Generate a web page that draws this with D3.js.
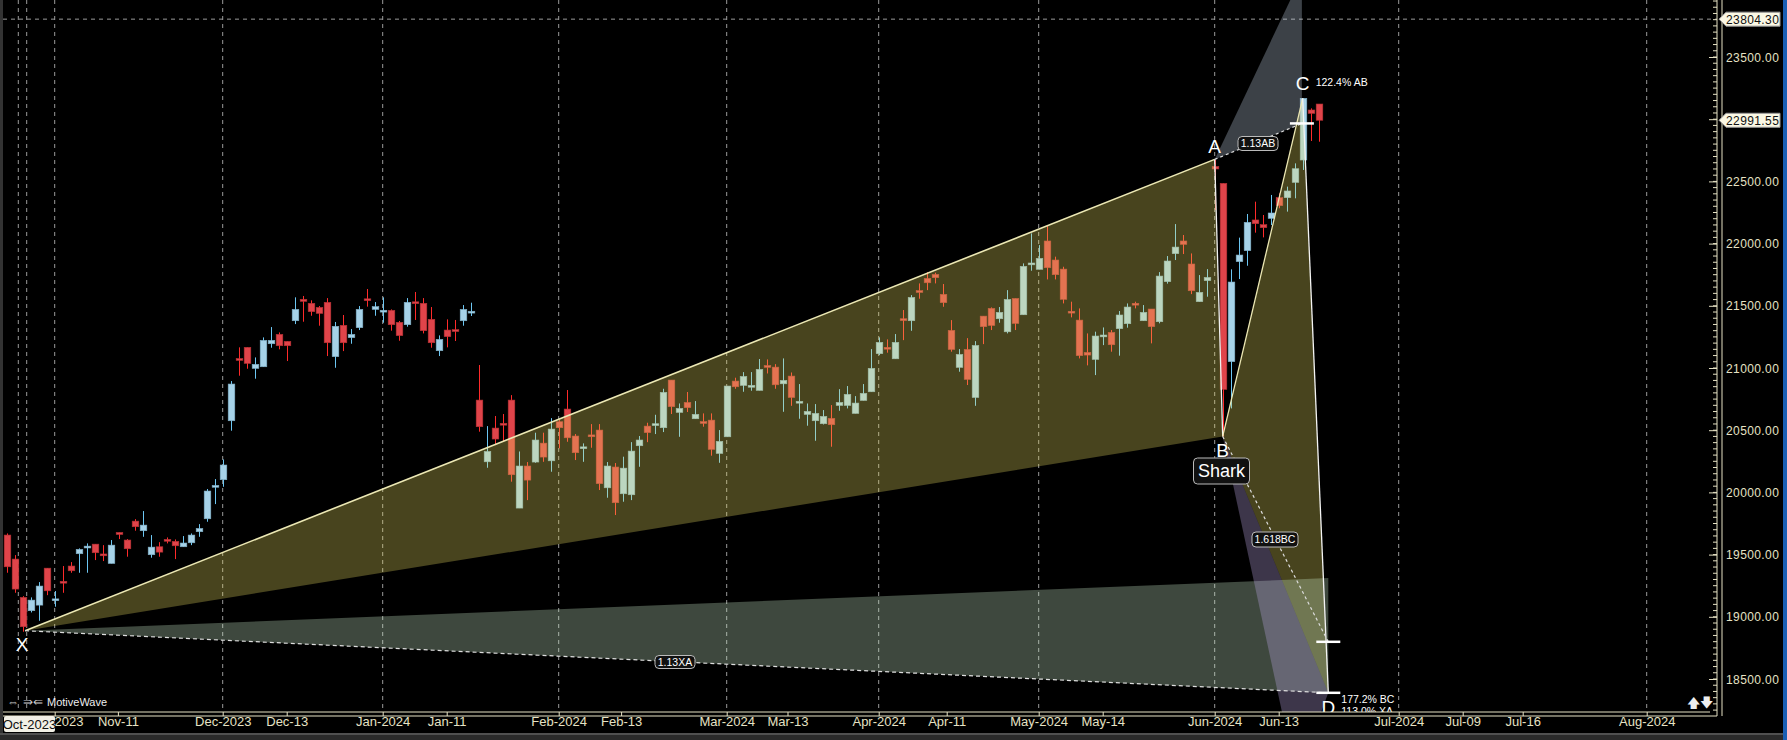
<!DOCTYPE html>
<html><head><meta charset="utf-8">
<script src="https://cdn.jsdelivr.net/npm/d3@7"></script>
<style>html,body{margin:0;padding:0;background:#000;overflow:hidden}svg{display:block;font-family:"Liberation Sans",Arial,sans-serif}</style>
</head><body><svg id="c" width="1787" height="740"></svg>
<script>
const opens=[19657,19464,19156,19049,19094,19391,19140,19285,19408,19507,19562,19584,19505,19429,19678,19617,19769,19692,19499,19563,19622,19606,19563,19595,19684,19788,20050,20102,20576,21076,21166,20997,21010,21195,21270,21214,21380,21552,21520,21487,21528,21091,21343,21244,21324,21556,21471,21458,21463,21367,21348,21532,21520,21391,21139,21305,21308,21380,21450,20742,20246,20517,20555,20742,19874,20212,20244,20396,20254,20568,20670,20453,20358,20462,20501,20037,20204,19989,19981,20375,20533,20546,20520,20903,20643,20723,20592,20569,20581,20313,20447,20895,20860,20854,20820,21020,21007,20873,20935,20726,20627,20576,20552,20595,20699,20699,20635,20739,20809,21115,21166,21074,21396,21380,21622,21720,21752,21592,21302,21005,21149,20763,21417,21479,21396,21291,21559,21428,21838,21793,22021,21868,21795,21456,21385,21125,21069,21259,21286,21316,21356,21520,21380,21474,21372,21694,21919,22021,21836,21533,21702,22620,22484,21051,21855,21943,22190,22152,22203,22369,22369,22492,22672,23074,23122];
const highs=[19670,19496,19166,19156,19279,19391,19207,19408,19440,19550,19590,19584,19576,19617,19678,19625,19785,19850,19657,19600,19638,19622,19649,19670,19745,20027,20107,20265,20895,21166,21166,21085,21246,21329,21286,21214,21568,21579,21544,21498,21562,21370,21426,21313,21498,21635,21530,21568,21471,21378,21562,21611,21562,21490,21262,21391,21386,21506,21525,21024,20533,20614,20630,20782,20329,20244,20480,20480,20597,20581,20823,20469,20394,20549,20549,20244,20236,20287,20404,20453,20560,20624,20833,20903,20715,20807,20734,20635,20635,20501,20855,20922,20967,20967,21072,21069,21031,21077,20964,20871,20715,20710,20662,20702,20830,20855,20774,20871,21152,21246,21230,21273,21466,21586,21680,21771,21766,21675,21385,21152,21240,21216,21417,21487,21490,21626,21559,21841,22082,21988,22146,21895,21814,21533,21479,21278,21292,21326,21305,21458,21519,21533,21506,21474,21771,21900,22157,22069,21921,21747,21795,22672,22484,21793,22048,22238,22337,22230,22391,22404,22458,22645,23168,23087,23122];
const lows=[19354,19193,18880,19035,18968,19174,19081,19193,19354,19354,19354,19456,19448,19429,19625,19483,19692,19643,19475,19483,19590,19464,19563,19576,19643,19764,19906,20045,20496,20938,20994,20914,21010,21163,21150,21056,21353,21372,21420,21340,21096,21002,21136,21195,21305,21493,21420,21364,21300,21219,21332,21386,21278,21163,21096,21166,21217,21340,21418,20488,20198,20380,20413,20086,19874,19938,20238,20246,20166,20354,20407,20260,20246,20359,20019,19957,19818,19925,19938,20206,20404,20469,20485,20630,20447,20646,20592,20528,20295,20238,20447,20833,20809,20817,20820,20956,20833,20648,20696,20592,20536,20415,20546,20367,20656,20675,20635,20739,20809,21104,21123,21074,21224,21299,21557,21626,21680,21492,21131,20970,20863,20696,21192,21305,21364,21278,21305,21428,21782,21793,21712,21712,21519,21407,21077,21021,20943,21184,21131,21099,21324,21479,21380,21198,21359,21678,21868,21916,21594,21533,21573,22270,20450,20675,21715,21822,22088,22050,22149,22284,22257,22364,22592,22825,22819];
const closes=[19402,19223,18920,19134,19247,19209,19144,19280,19370,19542,19568,19515,19498,19576,19662,19547,19724,19737,19560,19520,19616,19571,19593,19657,19710,20011,20056,20220,20871,21068,21037,21029,21222,21222,21179,21179,21471,21536,21453,21439,21203,21335,21203,21270,21471,21548,21493,21464,21348,21260,21528,21524,21300,21203,21230,21252,21302,21471,21456,20528,20329,20429,20549,20142,20212,20099,20421,20284,20509,20520,20439,20319,20366,20454,20070,20212,19917,20195,20332,20421,20480,20552,20804,20689,20675,20681,20627,20561,20346,20410,20855,20849,20932,20860,20989,21014,20865,20900,20763,20732,20651,20635,20611,20544,20723,20788,20718,20796,20997,21206,21160,21206,21390,21567,21614,21685,21726,21525,21149,21109,20908,21181,21332,21342,21447,21551,21358,21817,21844,21881,21806,21750,21552,21448,21099,21104,21257,21265,21187,21426,21490,21514,21447,21332,21739,21860,21972,21994,21621,21608,21728,22600,20828,21691,21908,22171,22160,22128,22246,22305,22423,22602,23168,23047,22991.55];
// x-axis tick labels and their bar positions
const tickLabels=["Nov-2023","Nov-11","Dec-2023","Dec-13","Jan-2024","Jan-11","Feb-2024","Feb-13","Mar-2024","Mar-13","Apr-2024","Apr-11","May-2024","May-14","Jun-2024","Jun-13","Jul-2024","Jul-09","Jul-16","Aug-2024"];
const tickBars=[6,13.9,27,35,47,55,69,76.8,90,97.6,109,117.5,129,137,151,159,174,182,189.5,205];
const monthBars=[1.45,2.5,6,27,47,69,90,109,129,151,174,205];
const priceTicks=[18500,19000,19500,20000,20500,21000,21500,22000,22500,23000,23500];
// harmonic pattern points [bar, price]
const ptX=[2.3,18888], ptA=[151,22677], ptB=[152,20450], ptC=[162,23168], ptD=[165.2,18389];
const ptAB113=[161.9,22966], ptABtop=[161.9,24154], ptBC1618=[165.2,18799], ptXAtop=[165.2,19311], ptBDlow=[161.2,17700];
const lastPrice=22991.55, cursorPrice=23804.30;

const svg=d3.select("#c");
const W=1787,H=740,PR=1717,PB=712;
const x=d3.scaleLinear().domain([0,1]).range([6.7,14.7]);
const y=d3.scaleLinear().domain([18500,23500]).range([679,57]);
svg.append("rect").attr("width",W).attr("height",H).attr("fill","#000");
svg.append("defs").append("clipPath").attr("id","pc").append("rect").attr("x",3).attr("y",0).attr("width",PR-3).attr("height",PB);
const g=svg.append("g").attr("clip-path","url(#pc)");
// grid
monthBars.forEach(b=>g.append("line").attr("x1",x(b)).attr("x2",x(b)).attr("y1",0).attr("y2",PB).attr("stroke","#9a9a9a").attr("stroke-dasharray","4,4").attr("stroke-width",1));
g.append("line").attr("x1",3).attr("x2",PR).attr("y1",y(cursorPrice)).attr("y2",y(cursorPrice)).attr("stroke","#9a9a9a").attr("stroke-dasharray","4,4");
// candles
const data=opens.map((o,i)=>({i,o,h:highs[i],l:lows[i],c:closes[i]}));
const cg=g.append("g");
data.forEach(d=>{
  const up=d.c>=d.o;
  const body=up?"#a6d2e8":"#e0444a", wick=up?"#6cc6f2":"#ff2a2a";
  const cx=Math.round(x(d.i))+0.5;
  cg.append("line").attr("x1",cx).attr("x2",cx).attr("y1",y(d.h)).attr("y2",y(d.l)).attr("stroke",wick).attr("stroke-width",1);
  const t=y(Math.max(d.o,d.c)),b=y(Math.min(d.o,d.c));
  cg.append("rect").attr("x",cx-3.3).attr("width",6.6).attr("y",t).attr("height",Math.max(1.8,b-t)).attr("fill",body).attr("stroke",up?"#7fb0c8":"#b83034").attr("stroke-width",0.6);
});
const P=p=>[x(p[0]),y(p[1])];
const poly=(pts,fill)=>g.append("polygon").attr("points",pts.map(P).map(p=>p.join(",")).join(" ")).attr("fill",fill);
poly([ptX,ptA,ptB],"rgba(240,225,100,0.30)");
poly([ptB,ptC,ptD],"rgba(240,225,100,0.30)");
poly([ptX,ptXAtop,ptD],"rgba(205,240,205,0.30)");
poly([ptA,ptABtop,ptAB113],"rgba(200,215,235,0.30)");
poly([ptB,ptBDlow,ptD],"rgba(185,165,225,0.33)");
const line=(a,b,col,dash,w)=>g.append("line").attr("x1",P(a)[0]).attr("y1",P(a)[1]).attr("x2",P(b)[0]).attr("y2",P(b)[1]).attr("stroke",col).attr("stroke-width",w||1.3).attr("stroke-dasharray",dash||null);
line(ptX,ptA,"#ece8b4",null,1.6);
line(ptA,ptB,"#f0f0f0",null,1.3);
line(ptB,ptC,"#ece8b4",null,1.3);
line(ptC,ptD,"#f4f4f4",null,1.3);
line(ptX,ptD,"#ddd","4,3",1.2);
line(ptA,ptAB113,"#ddd","3,3",1.2);
line(ptB,ptBC1618,"#ddd","3,3",1.2);
[ptAB113,ptBC1618,ptD].forEach(p=>g.append("line").attr("x1",P(p)[0]-12).attr("x2",P(p)[0]+12).attr("y1",P(p)[1]).attr("y2",P(p)[1]).attr("stroke","#fff").attr("stroke-width",2.5));
const txt=(s,xx,yy,sz,anchor,col)=>g.append("text").attr("x",xx).attr("y",yy).attr("font-size",sz).attr("fill",col||"#fff").attr("text-anchor",anchor||"middle").text(s);
txt("X",P(ptX)[0]-3,P(ptX)[1]+20,19);
txt("A",P(ptA)[0],P(ptA)[1]-6,19);
txt("B",P(ptB)[0],P(ptB)[1]+21,19);
txt("C",P(ptC)[0],P(ptC)[1]-8,19);
txt("D",P(ptD)[0],P(ptD)[1]+21,19);
txt("122.4% AB",P(ptC)[0]+13,P(ptC)[1]-12,10.5,"start");
txt("177.2% BC",P(ptD)[0]+13,P(ptD)[1]+10,10.5,"start");
txt("113.0% XA",P(ptD)[0]+13,P(ptD)[1]+22,10.5,"start");
const box=(s,cx,cy,w,h,sz,r)=>{g.append("rect").attr("x",cx-w/2).attr("y",cy-h/2).attr("width",w).attr("height",h).attr("rx",r).attr("fill","#111").attr("stroke","#bbb").attr("stroke-width",1);
 txt(s,cx,cy+sz*0.36,sz);};
box("Shark",1221.5,471,56,26,18,4);
box("1.13AB",1258,143.5,40,14,10.5,4);
box("1.618BC",1275,539.5,46,15,10.5,4);
box("1.13XA",675,662,40,13,10.5,4);
txt("⇔ ⇛⇚",25,706,12,"middle","#ccc");
txt("MotiveWave",47,706,11,"start","#eee");
txt("🡅🡇",1700,707,13,"middle","#eee");
// right axis
const ax=svg.append("g").attr("transform",`translate(${PR},0)`);
const minor=d3.range(18250,24000,50).filter(v=>y(v)>0&&y(v)<PB);
ax.selectAll("line.mn").data(minor).join("line").attr("x1",-4).attr("x2",0).attr("y1",d=>y(d)).attr("y2",d=>y(d)).attr("stroke","#e6e2c4");
const tk=ax.append("g").call(d3.axisLeft(y).tickValues(priceTicks).tickSize(8).tickFormat(()=>""));
tk.select(".domain").remove(); tk.selectAll("line").attr("stroke","#e6e2c4");
ax.append("line").attr("x1",0).attr("x2",0).attr("y1",0).attr("y2",PB+4).attr("stroke","#e6e2c4");
ax.append("line").attr("x1",5).attr("x2",5).attr("y1",0).attr("y2",PB+4).attr("stroke","#e6e2c4");
priceTicks.forEach(v=>ax.append("text").attr("x",9).attr("y",y(v)+4.5).attr("text-anchor","start").attr("fill","#e6e2c4").attr("font-size",12).attr("letter-spacing",0.4).text(d3.format(".2f")(v)));
[cursorPrice,lastPrice].forEach(v=>{const yy=y(v);
 ax.append("path").attr("d",`M2,${yy} L9,${yy-7} L63,${yy-7} L63,${yy+7} L9,${yy+7} Z`).attr("fill","#fbf8e4").attr("stroke","#999");
 ax.append("text").attr("x",9).attr("y",yy+4.5).attr("text-anchor","start").attr("fill","#111").attr("font-size",12).attr("letter-spacing",0.4).text(d3.format(".2f")(v));});
svg.append("rect").attr("x",1783).attr("y",0).attr("width",4).attr("height",740).attr("fill","#1a5fb4");
svg.append("rect").attr("x",0).attr("y",0).attr("width",3).attr("height",733).attr("fill","#333");
// bottom axis
const bx=svg.append("g");
bx.append("line").attr("x1",3).attr("x2",1710).attr("y1",PB).attr("y2",PB).attr("stroke","#e6e2c4");
bx.append("line").attr("x1",3).attr("x2",PR).attr("y1",716).attr("y2",716).attr("stroke","#e6e2c4");
const xa=d3.axisBottom(x).tickValues(tickBars).tickSize(4).tickFormat((d,i)=>tickLabels[i]);
const xg=bx.append("g").attr("transform",`translate(0,${PB})`).call(xa);
xg.select(".domain").remove();
xg.selectAll("line").attr("stroke","#e6e2c4");
xg.selectAll("text").attr("fill","#e6e2c4").attr("font-size",13).attr("dy","0.55em").attr("font-family","Liberation Sans,Arial");
bx.append("rect").attr("x",4).attr("y",716).attr("width",51).attr("height",16).attr("rx",2).attr("fill","#f2f0e6");
bx.append("text").attr("x",29.5).attr("y",729).attr("text-anchor","middle").attr("font-size",13).attr("fill","#111").text("Oct-2023");
svg.append("rect").attr("x",0).attr("y",733).attr("width",1783).attr("height",7).attr("fill","#2a2a2a");
svg.append("line").attr("x1",0).attr("x2",1783).attr("y1",734).attr("y2",734).attr("stroke","#777");
</script></body></html>
